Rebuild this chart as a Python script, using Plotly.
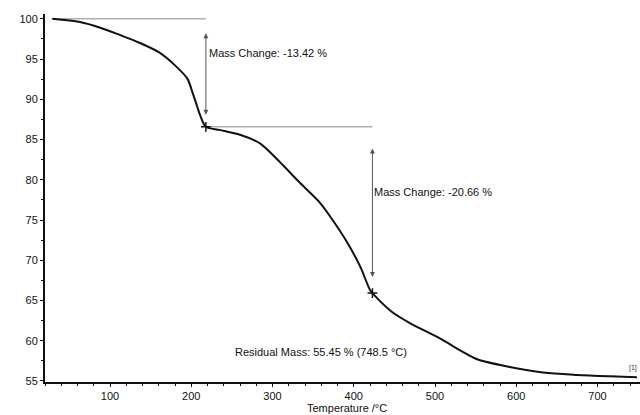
import plotly.graph_objects as go

# TGA curve (temperature in °C, mass in %)
temps = [29, 63, 88, 112, 137, 161, 177, 195, 202, 207, 211, 218, 235, 260, 285, 309, 334, 358,
         374, 392, 408, 420, 423, 448, 469, 506, 531, 552, 592, 633, 675, 715, 748.5]
mass = [100.0, 99.6, 98.9, 98.0, 97.0, 95.8, 94.5, 92.6, 90.7, 89.2, 88.0, 86.58, 86.2, 85.6, 84.5,
        82.2, 79.6, 77.2, 75.0, 72.2, 69.2, 66.3, 65.92, 63.5, 62.2, 60.3, 58.8, 57.7, 56.74,
        56.05, 55.75, 55.57, 55.45]

step_temps = [218, 423]
step_mass = [86.58, 65.92]
start_temp = 29
start_mass = 100.0
mass_changes = ["-13.42", "-20.66"]
residual_label = "Residual Mass: 55.45 % (748.5 °C)"

x_ticks = [100, 200, 300, 400, 500, 600, 700]
y_ticks = [55, 60, 65, 70, 75, 80, 85, 90, 95, 100]

FONT = "Liberation Sans, Arial, sans-serif"

fig = go.Figure()

# reference horizontal lines
fig.add_trace(go.Scatter(x=[start_temp, step_temps[0]], y=[start_mass, start_mass], mode="lines",
                         line=dict(color="#8a8a8a", width=1), showlegend=False, hoverinfo="skip"))
fig.add_trace(go.Scatter(x=[step_temps[0], step_temps[1]], y=[step_mass[0], step_mass[0]], mode="lines",
                         line=dict(color="#8a8a8a", width=1), showlegend=False, hoverinfo="skip"))

# main curve
fig.add_trace(go.Scatter(x=temps, y=mass, mode="lines",
                         line=dict(color="#111111", width=2, shape="spline", smoothing=0.8),
                         showlegend=False))

# step markers
fig.add_trace(go.Scatter(x=step_temps, y=step_mass, mode="markers",
                         marker=dict(symbol="cross-thin", size=7, line=dict(color="#111111", width=1.5)),
                         showlegend=False))

# double-headed arrows
arrow_specs = [
    (step_temps[0], start_mass - 1.6, step_mass[0] + 1.5),
    (step_temps[1], step_mass[0] - 2.5, step_mass[1] + 2.0),
]
for xa, ytop, ybot in arrow_specs:
    fig.add_annotation(x=xa, y=ybot, ax=xa, ay=ytop, xref="x", yref="y", axref="x", ayref="y",
                       text="", showarrow=True, arrowhead=2, startarrowhead=2, arrowside="end+start",
                       arrowsize=1, startarrowsize=1, arrowwidth=1, arrowcolor="#555555")

# texts
fig.add_annotation(x=step_temps[0], y=95.8, xref="x", yref="y", text="Mass Change: " + mass_changes[0] + " %",
                   showarrow=False, xanchor="left", yanchor="middle", xshift=1,
                   font=dict(family=FONT, size=11, color="#111111"))
fig.add_annotation(x=step_temps[1], y=78.5, xref="x", yref="y", text="Mass Change: " + mass_changes[1] + " %",
                   showarrow=False, xanchor="left", yanchor="middle", xshift=0,
                   font=dict(family=FONT, size=11, color="#111111"))
fig.add_annotation(x=360, y=58.6, xref="x", yref="y", text=residual_label,
                   showarrow=False, xanchor="center", yanchor="middle",
                   font=dict(family=FONT, size=11, color="#111111"))
fig.add_annotation(x=744, y=56.6, xref="x", yref="y", text="[1]",
                   showarrow=False, xanchor="center", yanchor="middle",
                   font=dict(family=FONT, size=7, color="#333333"))
fig.add_annotation(x=0.5076, y=-0.072, xref="paper", yref="paper", text="Temperature /°C",
                   showarrow=False, xanchor="center", yanchor="middle",
                   font=dict(family=FONT, size=11, color="#111111"))

fig.update_layout(
    width=640, height=415,
    margin=dict(l=45, r=0, t=14, b=33),
    paper_bgcolor="white", plot_bgcolor="white",
    font=dict(family=FONT, size=11, color="#111111"),
    showlegend=False,
)
fig.update_xaxes(range=[20, 752.3], tickvals=x_ticks, showgrid=False, zeroline=False,
                 showline=True, linecolor="#111111", linewidth=2,
                 ticks="outside", ticklen=3, tickwidth=1, tickcolor="#111111",
                 minor=dict(dtick=20, tick0=0, ticks="outside", ticklen=2, tickcolor="#111111"),
                 tickfont=dict(family=FONT, size=11, color="#111111"))
fig.update_yaxes(range=[54.87, 100.6], tickvals=y_ticks, showgrid=False, zeroline=False,
                 showline=True, linecolor="#111111", linewidth=2,
                 ticks="outside", ticklen=3, tickwidth=1, tickcolor="#111111",
                 minor=dict(dtick=2.5, tick0=0, ticks="outside", ticklen=2, tickcolor="#111111"),
                 tickfont=dict(family=FONT, size=11, color="#111111"))

fig.write_html("out.html")
